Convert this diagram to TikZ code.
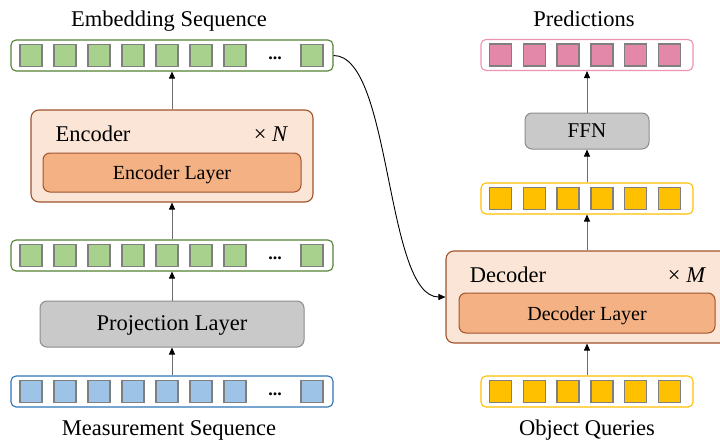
\documentclass[tikz,border=0pt]{standalone}
\usepackage{fontspec}
\setmainfont{Liberation Serif}
\usetikzlibrary{arrows.meta}

\definecolor{grnfill}{HTML}{A9D18E}
\definecolor{grnline}{HTML}{548235}
\definecolor{blufill}{HTML}{9DC3E6}
\definecolor{bluline}{HTML}{2E75B6}
\definecolor{pnkfill}{HTML}{E488A9}
\definecolor{pnkline}{HTML}{EC93B3}
\definecolor{ylwfill}{HTML}{FFC000}
\definecolor{ylwline}{HTML}{FFC000}
\definecolor{blkfill}{HTML}{FBE5D6}
\definecolor{lyrfill}{HTML}{F4B183}
\definecolor{brnline}{HTML}{A0522D}
\definecolor{gryfill}{HTML}{C9C9C9}
\definecolor{gryline}{HTML}{8C8C8C}
\definecolor{sqline}{HTML}{7F7F7F}

\tikzset{
  seqbar/.style={draw, rounded corners=5pt, line width=1.1pt, fill=white,
    inner sep=0pt, minimum height=31pt},
  cell/.style={draw=sqline, line width=1.4pt, inner sep=0pt,
    minimum width=22pt, minimum height=22pt},
  block/.style={draw=brnline, line width=1.1pt, fill=blkfill,
    rounded corners=8pt, inner sep=0pt},
  layerbox/.style={draw=brnline, line width=1pt, fill=lyrfill,
    rounded corners=7pt, inner sep=0pt},
  graybox/.style={draw=gryline, line width=1pt, fill=gryfill,
    rounded corners=7pt, inner sep=0pt},
  lbl/.style={anchor=base, inner sep=0pt, font=\fontsize{22.5}{26}\selectfont},
  lyrlbl/.style={anchor=base, inner sep=0pt, font=\fontsize{20}{24}\selectfont},
  ellip/.style={inner sep=0pt, font=\bfseries\fontsize{18}{22}\selectfont},
  flow/.style={draw=gray!85!black, line width=0.9pt,
    -{Triangle[length=7pt,width=6pt,color=black]}},
  x=1pt, y=-1pt
}

\begin{document}
\begin{tikzpicture}
\useasboundingbox (0,0) rectangle (720,439);
\clip (0,0) rectangle (720,439);

% ---------- encoder side ----------
\node[seqbar, draw=grnline, minimum width=322pt] (emb) at (172,55.5) {};
\node[seqbar, draw=grnline, minimum width=322pt] (mid) at (172,255.5) {};
\node[seqbar, draw=bluline, minimum width=322pt] (meas) at (172,391.5) {};
\foreach \i/\x in {1/31,2/65,3/99,4/133,5/167,6/201,7/235,8/312}{
  \node[cell, fill=grnfill] (e\i) at (\x,55.5) {};
  \node[cell, fill=grnfill] (m\i) at (\x,255.5) {};
  \node[cell, fill=blufill] (b\i) at (\x,391.5) {};
}
\foreach \y/\n in {55.5/edots,255.5/mdots,391.5/bdots}
  \node[ellip] (\n) at (275,\y+2.5) {...};

\node[block, minimum width=282pt, minimum height=92pt] (enc) at (172,156) {};
\node[layerbox, minimum width=258pt, minimum height=39pt] (enclayer) at (172,172.5) {};
\node[lbl] (enctext) at (93,141.5) {Encoder};
\node[lbl] (encrep) at (271,141.5) {× \textit{N}};
\node[lyrlbl] (enclayertext) at (172,179) {Encoder Layer};

\node[graybox, minimum width=264pt, minimum height=46pt] (proj) at (172,324) {};
\node[lbl] (projtext) at (172,330.5) {Projection Layer};

\node[lbl] (embtitle) at (169,26) {Embedding Sequence};
\node[lbl] (meastitle) at (169,435) {Measurement Sequence};

\draw[flow] (meas.north) -- (proj.south);
\draw[flow] (proj.north) -- (mid.south);
\draw[flow] (mid.north) -- (enc.south);
\draw[flow] (enc.north) -- (emb.south);

% ---------- decoder side ----------
\node[seqbar, draw=pnkline, minimum width=212pt] (pred) at (587,55) {};
\node[seqbar, draw=ylwline, minimum width=212pt] (dout) at (587,198.5) {};
\node[seqbar, draw=ylwline, minimum width=212pt] (query) at (587,391.5) {};
\foreach \i/\x in {1/500.5,2/534.3,3/568.1,4/601.9,5/635.7,6/669.5}{
  \node[cell, fill=pnkfill] (p\i) at (\x,55) {};
  \node[cell, fill=ylwfill] (d\i) at (\x,198.5) {};
  \node[cell, fill=ylwfill] (q\i) at (\x,391.5) {};
}

\node[graybox, minimum width=124pt, minimum height=36pt] (ffn) at (587,131) {};
\node[lbl, font=\fontsize{21}{24}\selectfont] (ffntext) at (587,137.5) {FFN};

\node[block, minimum width=282pt, minimum height=92pt] (dec) at (587,297) {};
\node[layerbox, minimum width=256pt, minimum height=40pt] (declayer) at (587,313) {};
\node[lbl] (dectext) at (508,282.5) {Decoder};
\node[lbl] (decrep) at (687,282.5) {× \textit{M}};
\node[lyrlbl] (declayertext) at (587,320) {Decoder Layer};

\node[lbl] (predtitle) at (584,26) {Predictions};
\node[lbl] (querytitle) at (587,435) {Object Queries};

\draw[flow] (query.north) -- (dec.south);
\draw[flow] (dec.north) -- (dout.south);
\draw[flow] (dout.north) -- (ffn.south);
\draw[flow] (ffn.north) -- (pred.south);

% memory from encoder into decoder
\draw[line width=0.9pt, -{Triangle[length=7pt,width=6pt]}]
  (emb.east) .. controls (392,55.5) and (385,297) .. (dec.west);
\end{tikzpicture}
\end{document}
